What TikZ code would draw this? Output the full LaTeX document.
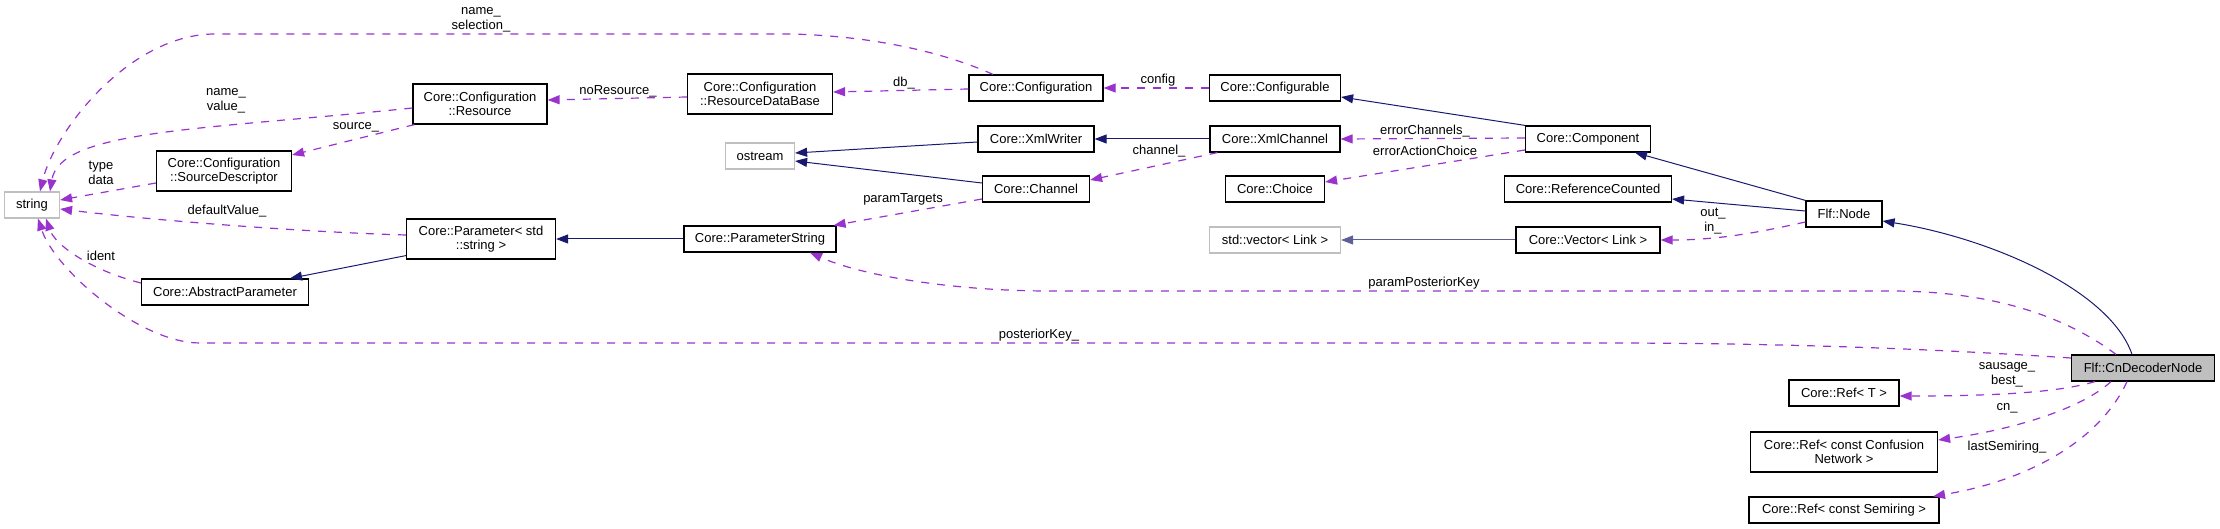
\documentclass[tikz,border=0pt]{standalone}
\usepackage{fontspec}
\setmainfont{Liberation Sans}
\usepackage{tikz}
\usetikzlibrary{arrows.meta}

\definecolor{inhblue}{RGB}{25,25,112}
\definecolor{usepurple}{RGB}{154,50,205}
\definecolor{extgray}{RGB}{191,191,191}

\begin{document}
\begin{tikzpicture}
		[x=1pt,y=1pt,
		font=\fontsize{13}{14.5}\selectfont,
		c/.style= {draw=black,line width=1.2pt,inner sep=0pt,align=center,fill=white,minimum height=26pt},
		tall/.style= {minimum height=40pt},
		ext/.style= {c,draw=extgray},
		inh/.style= {draw=inhblue,line width=1pt,-{Triangle[length=12pt,width=9pt]}},
		use/.style= {draw=usepurple,line width=1.2pt,dash pattern=on 8pt off 8pt,-{Triangle[length=12pt,width=9pt]}},
		lbl/.style= {inner sep=0pt,align=center}]

		\useasboundingbox (0,0) rectangle (2220,-529);

		\node[ext,minimum width=55pt] (str) at (32,-205) {string}
		;
		\node[c,tall,minimum width=134pt] (res) at (480,-104) {Core::Configuration\\::Resource}
		;
		\node[c,tall,minimum width=135pt] (src) at (224,-171) {Core::Configuration\\::SourceDescriptor}
		;
		\node[c,tall,minimum width=149pt] (par) at (481,-239) {Core::Parameter< std\\::string >}
		;
		\node[c,minimum width=167pt] (apar) at (225,-292) {Core::AbstractParameter}
		;
		\node[c,tall,minimum width=145pt] (rdb) at (760,-94) {Core::Configuration\\::ResourceDataBase}
		;
		\node[c,minimum width=134pt] (cfg) at (1036,-88) {Core::Configuration}
		;
		\node[c,minimum width=131pt] (cfgb) at (1275,-88) {Core::Configurable}
		;
		\node[ext,minimum width=69pt] (ostr) at (760,-156) {ostream}
		;
		\node[c,minimum width=116pt] (xw) at (1036,-139) {Core::XmlWriter}
		;
		\node[c,minimum width=130pt] (xch) at (1275,-139) {Core::XmlChannel}
		;
		\node[c,minimum width=107pt] (chan) at (1036,-189) {Core::Channel}
		;
		\node[c,minimum width=99pt] (choice) at (1275,-189) {Core::Choice}
		;
		\node[c,minimum width=152pt] (pstr) at (760,-239) {Core::ParameterString}
		;
		\node[ext,minimum width=131pt] (svec) at (1275,-240) {std::vector< Link >}
		;
		\node[c,minimum width=125pt] (comp) at (1588,-139) {Core::Component}
		;
		\node[c,minimum width=167pt] (rc) at (1588,-189) {Core::ReferenceCounted}
		;
		\node[c,minimum width=144pt] (vec) at (1588,-240) {Core::Vector< Link >}
		;
		\node[c,minimum width=76pt] (fnode) at (1844,-214) {Flf::Node}
		;
		\node[c,fill=extgray,minimum width=143pt] (cn) at (2143,-368) {Flf::CnDecoderNode}
		;
		\node[c,minimum width=110pt] (reft) at (1844,-393) {Core::Ref< T >}
		;
		\node[c,tall,minimum width=187pt] (refcn) at (1844,-452) {Core::Ref< const Confusion\\Network >}
		;
		\node[c,minimum width=190pt] (refsr) at (1844,-510) {Core::Ref< const Semiring >}
		;

		% inheritance
		\draw[inh] ([yshift=-3pt]xw.west) -- ([yshift=3pt]ostr.east);
		\draw[inh] ([yshift=6pt]chan.west) -- ([yshift=-5pt]ostr.east);
		\draw[inh] (xch.west) -- (xw.east);
		\draw[inh] (comp.north west) -- ([yshift=-9pt]cfgb.east);
		\draw[inh] (fnode.north west) -- ([xshift=47pt]comp.south);
		\draw[inh] ([yshift=3pt]fnode.west) -- ([yshift=-10pt]rc.east);
		\draw[inh,draw=inhblue!70] (vec.west) -- (svec.east);
		\draw[inh] ([yshift=4pt]par.south west) -- ([xshift=65pt]apar.north);
		\draw[inh] (pstr.west) -- (par.east);
		\draw[inh] ([xshift=-11pt]cn.north) .. controls (2110,-290) and (1990,-238) .. ([yshift=-7pt]fnode.east);

		% usage
		\draw[use] ([xshift=-43pt]cfg.north) .. controls (950,-55) and (880,-36) .. (790,-34) -- (215,-34) .. controls (130,-34) and (55,-130) .. ([xshift=8pt]str.north);
		\draw[use] ([yshift=-1pt]cfg.west) -- ([yshift=2pt]rdb.east);
		\draw[use] (cfgb.west) -- (cfg.east);
		\draw[use] ([yshift=-3pt]rdb.west) -- ([yshift=4pt]res.east);
		\draw[use] ([yshift=-4pt]res.west) .. controls (200,-130) and (60,-130) .. ([xshift=18pt]str.north);
		\draw[use] ([xshift=2pt]res.south west) -- ([yshift=16pt]src.east);
		\draw[use] ([yshift=-12pt]src.west) -- ([yshift=5pt]str.east);
		\draw[use] ([yshift=4pt]par.west) .. controls (300,-232) and (150,-220) .. ([yshift=-4pt]str.east);
		\draw[use] ([yshift=9pt]apar.west) .. controls (90,-270) and (55,-245) .. ([xshift=14pt]str.south);
		\draw[use] ([yshift=10pt]cn.west) .. controls (1950,-350) and (1800,-343) .. (1600,-343) -- (200,-343) .. controls (140,-343) and (55,-270) .. ([xshift=6pt]str.south);
		\draw[use] ([xshift=-27pt]cn.north) .. controls (2070,-320) and (2000,-291) .. (1890,-291) -- (1050,-291) .. controls (950,-291) and (860,-275) .. ([xshift=50pt]pstr.south);
		\draw[use] ([yshift=1pt]comp.west) -- (xch.east);
		\draw[use] ([yshift=-11pt]comp.west) -- ([yshift=7pt]choice.east);
		\draw[use] ([xshift=8pt]xch.south west) -- ([yshift=9pt]chan.east);
		\draw[use] ([yshift=-10pt]chan.west) -- ([xshift=-3pt]pstr.north east);
		\draw[use] ([yshift=-8pt]fnode.west) .. controls (1760,-232) and (1720,-240) .. (vec.east);
		\draw[use] ([xshift=-48pt]cn.south) .. controls (2060,-392) and (2000,-396) .. ([yshift=-3pt]reft.east);
		\draw[use] ([xshift=-32pt]cn.south) .. controls (2080,-410) and (2010,-430) .. ([yshift=12pt]refcn.east);
		\draw[use] ([xshift=-16pt]cn.south) .. controls (2100,-440) and (2030,-480) .. ([xshift=89pt]refsr.north);

		\node[lbl] (l-sel) at (481,-20) {name\_\\selection\_};
		\node[lbl] (l-nores) at (618,-91) {noResource\_};
		\node[lbl] (l-val) at (226,-101) {name\_\\value\_};
		\node[lbl] (l-src) at (356,-127) {source\_};
		\node[lbl] (l-type) at (101,-173) {type\\data};
		\node[lbl] (l-def) at (227,-211) {defaultValue\_};
		\node[lbl] (l-ident) at (101,-256) {ident};
		\node[lbl] (l-db) at (904,-83) {db\_};
		\node[lbl] (l-cfg) at (1158,-80) {config};
		\node[lbl] (l-chan) at (1159,-151) {channel\_};
		\node[lbl] (l-targ) at (903,-199) {paramTargets};
		\node[lbl] (l-errch) at (1425,-131) {errorChannels\_};
		\node[lbl] (l-erract) at (1425,-151) {errorActionChoice};
		\node[lbl] (l-ppk) at (1424,-283) {paramPosteriorKey};
		\node[lbl] (l-pk) at (1039,-335) {posteriorKey\_};
		\node[lbl] (l-io) at (1713,-221) {out\_\\in\_};
		\node[lbl] (l-best) at (2007,-375) {sausage\_\\best\_};
		\node[lbl] (l-cn) at (2007,-408) {cn\_};
		\node[lbl] (l-semi) at (2007,-447) {lastSemiring\_};

	\end{tikzpicture}
\end{document}
